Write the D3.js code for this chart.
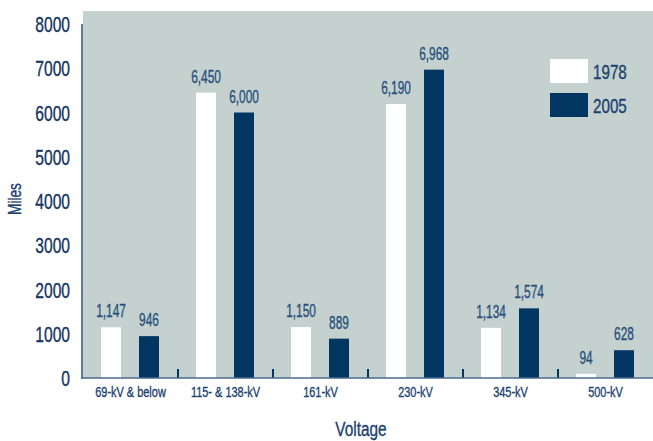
<!DOCTYPE html>
<html lang="en">
<head>
  <meta charset="UTF-8">
  <title>Transmission Miles by Voltage</title>
  <script src="https://d3js.org/d3.v7.min.js"></script>
  <style>
    body { margin: 0; background: #fff; }
    text { font-family: "Liberation Sans", Arial, sans-serif; fill: #1b4170; stroke: #1b4170; stroke-width: 0.35px; }
  </style>
</head>
<body>
  <svg width="653" height="441"></svg>
  <script>
    const categories = ["69-kV & below", "115- & 138-kV", "161-kV", "230-kV", "345-kV", "500-kV"];
    const years = ["1978", "2005"];
    const miles1978 = [1147, 6450, 1150, 6190, 1134, 94];
    const miles2005 = [946, 6000, 889, 6968, 1574, 628];
    const yTicks = [0, 1000, 2000, 3000, 4000, 5000, 6000, 7000, 8000];

    const svg = d3.select("svg");
    const plotLeft = 83, plotRight = 653, plotTop = 24, plotBottom = 378;
    const navy = "#00365f", grey = "#c5d1ce";

    const x = d3.scaleBand().domain(categories).range([plotLeft, plotRight]);
    const y = d3.scaleLinear().domain([0, 8000]).range([plotBottom, plotTop]);
    const barW = 20;
    const offsets = {"1978": 18, "2005": 56};
    const colors = {"1978": "#ffffff", "2005": navy};

    // squeezed text, the original uses a condensed face
    function ctext(sel, px, py, size, sx) {
      return sel.append("text")
        .attr("transform", `translate(${px},${py}) scale(${sx},1)`)
        .style("font-size", size + "px");
    }

    // plot background
    svg.append("rect")
      .attr("x", plotLeft).attr("y", 11)
      .attr("width", plotRight - plotLeft).attr("height", plotBottom - 11)
      .attr("fill", grey);

    const rows = categories.map((c, i) => ({cat: c, "1978": miles1978[i], "2005": miles2005[i]}));

    years.forEach(yr => {
      svg.selectAll(".bar-" + yr)
        .data(rows)
        .enter().append("rect")
        .attr("x", d => x(d.cat) + offsets[yr])
        .attr("y", d => y(d[yr]))
        .attr("width", barW)
        .attr("height", d => plotBottom - y(d[yr]))
        .attr("fill", colors[yr]);

      rows.forEach(d => {
        ctext(svg, x(d.cat) + offsets[yr] + barW / 2, y(d[yr]) - 10, 18, 0.66)
          .attr("text-anchor", "middle")
          .style("fill", "#27507d").style("stroke", "#27507d")
          .text(d3.format(",")(d[yr]));
      });
    });

    // separator ticks between groups
    svg.selectAll(".sep")
      .data(categories.slice(1))
      .enter().append("line")
      .attr("x1", d => x(d)).attr("x2", d => x(d))
      .attr("y1", plotBottom - 9).attr("y2", plotBottom)
      .attr("stroke", navy).attr("stroke-width", 2);

    // axes lines
    svg.append("line")
      .attr("x1", plotLeft - 1).attr("x2", plotLeft - 1)
      .attr("y1", plotTop).attr("y2", plotBottom + 1)
      .attr("stroke", "#2a4d78").attr("stroke-width", 1.5);
    svg.append("line")
      .attr("x1", plotLeft - 1).attr("x2", plotRight)
      .attr("y1", plotBottom).attr("y2", plotBottom)
      .attr("stroke", "#4a6a90").attr("stroke-width", 1.5);

    // y tick labels
    yTicks.forEach(t => {
      ctext(svg, 70, y(t) + 8, 22, 0.71)
        .attr("text-anchor", "end")
        .style("fill", "#12335e").style("stroke", "#12335e")
        .text(t);
    });

    // category labels
    categories.forEach(c => {
      ctext(svg, x(c) + x.bandwidth() / 2, 397, 15, 0.73)
        .attr("text-anchor", "middle")
        .text(c);
    });

    ctext(svg, 361, 436, 20, 0.77)
      .attr("text-anchor", "middle")
      .text("Voltage");

    svg.append("text")
      .attr("transform", "translate(21,199) rotate(-90) scale(0.76,1)")
      .attr("text-anchor", "middle")
      .style("font-size", "18px")
      .text("Miles");

    // legend
    years.forEach((yr, i) => {
      svg.append("rect")
        .attr("x", 550).attr("y", 59 + i * 34)
        .attr("width", 38).attr("height", 24)
        .attr("fill", colors[yr]);
      ctext(svg, 593, 79 + i * 34, 20, 0.76)
        .text(yr);
    });
  </script>
</body>
</html>
